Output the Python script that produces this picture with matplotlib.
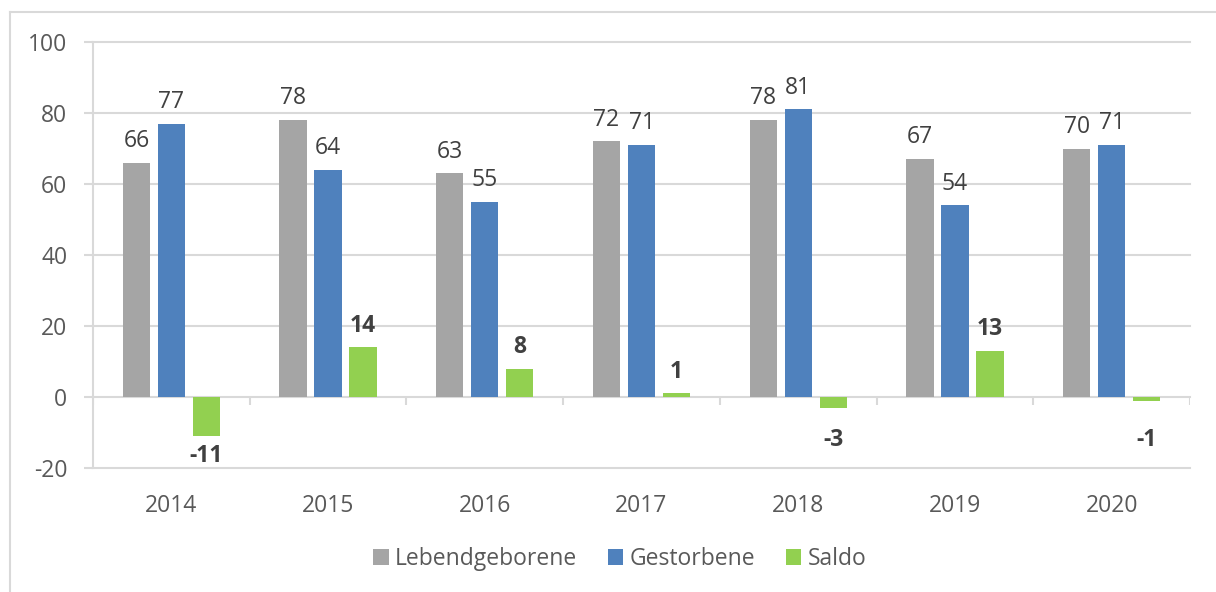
import numpy as np
import matplotlib
matplotlib.use("Agg")
import matplotlib.pyplot as plt
from matplotlib.lines import Line2D

years = ["2014", "2015", "2016", "2017", "2018", "2019", "2020"]
lebendgeborene = [66, 78, 63, 72, 78, 67, 70]
gestorbene = [77, 64, 55, 71, 81, 54, 71]
saldo = [-11, 14, 8, 1, -3, 13, -1]
series_names = ["Lebendgeborene", "Gestorbene", "Saldo"]
colors = ["#A5A5A5", "#4F81BD", "#92D050"]
y_ticks = [-20, 0, 20, 40, 60, 80, 100]

plt.rcParams['font.family'] = ['Open Sans', 'DejaVu Sans']
W, H = 1216, 592
fig = plt.figure(figsize=(W / 100, H / 100), dpi=100)
ax = fig.add_axes([93 / W, 1 - 468 / H, (1190 - 93) / W, (468 - 42) / H])

grid_c = "#D9D9D9"
text_c = "#595959"
label_c = "#404040"
fs = 16.5

x = np.arange(len(years))
offsets = [-0.223, 0.0, 0.223]
bw = 0.174
all_series = [lebendgeborene, gestorbene, saldo]
for i, (vals, col, name) in enumerate(zip(all_series, colors, series_names)):
    bars = ax.bar(x + offsets[i], vals, width=bw, color=col, label=name, zorder=3)
    for b, v in zip(bars, vals):
        cx = b.get_x() + b.get_width() / 2
        if v >= 0:
            ax.annotate(str(v), (cx, v), xytext=(0, 7), textcoords="offset points",
                        ha="center", va="bottom", fontsize=fs, color=label_c,
                        fontweight="bold" if i == 2 else "normal", zorder=4)
        else:
            # small negative bars: label pushed below the category tick marks
            ax.annotate(str(v), (cx, min(v, -6.5)), xytext=(0, -5.5), textcoords="offset points",
                        ha="center", va="top", fontsize=fs, color=label_c,
                        fontweight="bold" if i == 2 else "normal", zorder=4)

ax.set_xlim(-0.5, len(years) - 0.5)
ax.set_ylim(y_ticks[0], y_ticks[-1])
ax.set_yticks(y_ticks)
ax.set_yticklabels([str(t) for t in y_ticks])
ax.set_xticks(x)
ax.set_xticklabels(years)

for t in y_ticks:
    ax.axhline(t, color=grid_c, lw=1.5, zorder=1, clip_on=False)
# category boundary tick marks on the zero line
ax.vlines(np.arange(len(years) + 1) - 0.5, -2.3, 0, color=grid_c, lw=1.5, zorder=1)

for s in ["top", "right", "bottom"]:
    ax.spines[s].set_visible(False)
ax.spines["left"].set_color(grid_c)
ax.spines["left"].set_linewidth(1.5)

ax.tick_params(axis="y", colors=grid_c, length=6.5, width=1.5, pad=12, labelsize=fs, labelcolor=text_c)
ax.tick_params(axis="x", length=0, pad=19, labelsize=fs, labelcolor=text_c)

leg = fig.legend(loc="center", bbox_to_anchor=(620 / W, 1 - 559 / H), ncol=3, frameon=False,
                 fontsize=fs, handlelength=0.66, handleheight=0.66, handletextpad=0.28,
                 columnspacing=1.35, labelcolor=text_c)

# chart border (top and left visible in crop)
fig.add_artist(Line2D([10 / W, 10 / W], [0, 1 - 12 / H], transform=fig.transFigure, color=grid_c, lw=1.5))
fig.add_artist(Line2D([10 / W, 1], [1 - 12 / H, 1 - 12 / H], transform=fig.transFigure, color=grid_c, lw=1.5))

fig.savefig("out.png", dpi=100)
